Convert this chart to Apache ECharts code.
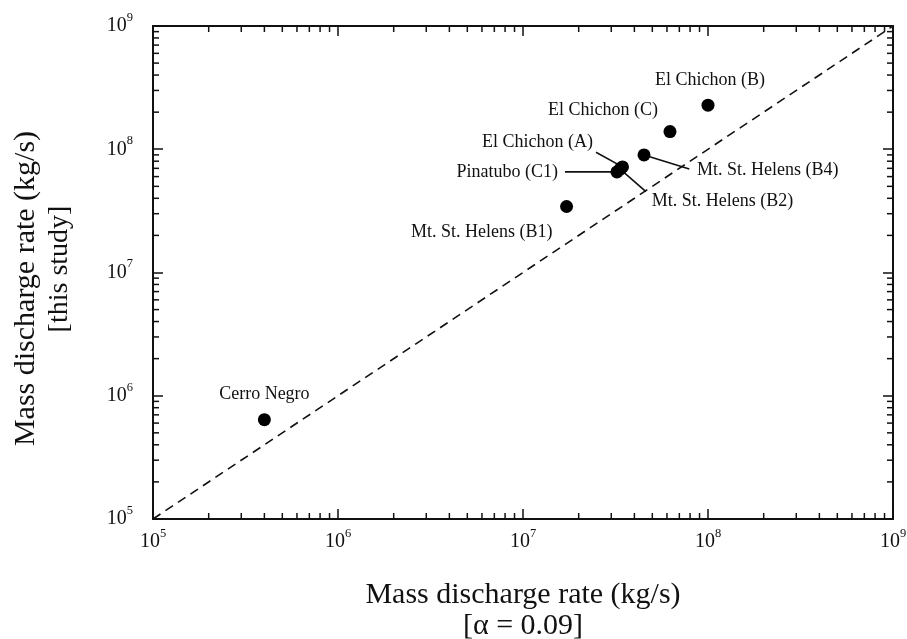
<!DOCTYPE html>
<html>
<head>
<meta charset="utf-8">
<script src="https://cdn.jsdelivr.net/npm/echarts@6/dist/echarts.min.js"></script>
<style>
  html, body { margin: 0; padding: 0; background: #fff; }
  #chart { width: 907px; height: 639px; }
</style>
</head>
<body>
<div id="chart"></div>
<script>
// Eruptions: discharge rate from the alpha = 0.09 estimate (x) vs. this study (y), kg/s
const eruptionNames = [
  'Cerro Negro', 'Mt. St. Helens (B1)', 'Pinatubo (C1)', 'El Chichon (A)',
  'Mt. St. Helens (B2)', 'Mt. St. Helens (B4)', 'El Chichon (C)', 'El Chichon (B)'
];
const rateAlpha = [4.0e5, 1.72e7, 3.22e7, 3.45e7, 3.35e7, 4.51e7, 6.23e7, 1.0e8];
const rateThisStudy = [6.4e5, 3.43e7, 6.55e7, 7.19e7, 6.9e7, 8.99e7, 1.39e8, 2.28e8];

// Axis range (decades) and the 1:1 reference line
const axisMin = 1e5;
const axisMax = 1e9;
const oneToOne = [[1e5, 1e5], [1e9, 1e9]];

// Minor log ticks: 2..9 within each decade
const minorMultipliers = [2, 3, 4, 5, 6, 7, 8, 9];
const decadeStarts = [1e5, 1e6, 1e7, 1e8];

const xTitle = 'Mass discharge rate (kg/s)\n[\u03b1 = 0.09]';
const yTitleLines = ['Mass discharge rate (kg/s)', '[this study]'];

// Label placement for each eruption, pixel offsets from its marker
const labelLayout = [
  { tx: 0,     ty: -25,   align: 'center' },
  { tx: -14,   ty: 26,    align: 'right' },
  { tx: -59,   ty: 0,     align: 'right', lx: -52,   ly: 0 },
  { tx: -29.5, ty: -24.3, align: 'right', lx: -26.5, ly: -14.7 },
  { tx: 31.5,  ty: 32.5,  align: 'left',  lx: 25.8,  ly: 22.5 },
  { tx: 53,    ty: 15,    align: 'left',  lx: 45.3,  ly: 14 },
  { tx: -12,   ty: -21,   align: 'right' },
  { tx: 2,     ty: -25,   align: 'center' }
];

const SERIF = '"Liberation Serif", "Times New Roman", serif';
const INK = '#111';

const minorTicks = [];
decadeStarts.forEach(d => minorMultipliers.forEach(m => minorTicks.push(d * m)));

const points = rateAlpha.map((x, i) => [x, rateThisStudy[i]]);

function powerLabel(v) {
  const e = Math.round(Math.log10(v));
  return '{b|10}{e|' + e + '}';
}
const powerRich = {
  b: { fontFamily: SERIF, fontSize: 20, color: INK, lineHeight: 30 },
  e: { fontFamily: SERIF, fontSize: 12.5, color: INK, lineHeight: 12, verticalAlign: 'top' }
};

const logAxisBase = {
  type: 'log', logBase: 10, min: axisMin, max: axisMax,
  axisLine: { show: true, onZero: false, lineStyle: { color: INK, width: 2 } },
  axisTick: { show: true, inside: true, length: 10, lineStyle: { color: INK, width: 1.5 } },
  splitLine: { show: false }
};

const chart = echarts.init(document.getElementById('chart'), null, { renderer: 'canvas' });

chart.setOption({
  backgroundColor: '#fff',
  animation: false,
  grid: { left: 153, right: 14, top: 26, bottom: 120, containLabel: false, outerBoundsMode: 'none' },
  xAxis: [
    Object.assign({}, logAxisBase, {
      position: 'bottom',
      axisLabel: { show: true, margin: 8, formatter: powerLabel, rich: powerRich },
      name: xTitle, nameLocation: 'middle', nameGap: 61,
      nameTextStyle: { fontFamily: SERIF, fontSize: 30, color: INK, lineHeight: 31 }
    }),
    Object.assign({}, logAxisBase, { position: 'top', axisLabel: { show: false } })
  ],
  yAxis: [
    Object.assign({}, logAxisBase, {
      position: 'left',
      axisLabel: { show: true, margin: 20, formatter: powerLabel, rich: powerRich },
      name: '{l1|' + yTitleLines[0] + '}\n{l2|' + yTitleLines[1] + '}',
      nameLocation: 'middle', nameGap: 76, nameRotate: 90,
      nameTextStyle: {
        fontFamily: SERIF, fontSize: 30, color: INK, lineHeight: 34,
        rich: {
          l1: { fontFamily: SERIF, fontSize: 30, color: INK, lineHeight: 34, padding: [0, 32, 0, 0] },
          l2: { fontFamily: SERIF, fontSize: 28, color: INK, lineHeight: 34, padding: [0, 0, 0, 7] }
        }
      }
    }),
    Object.assign({}, logAxisBase, { position: 'right', axisLabel: { show: false } })
  ],
  series: [
    {
      // 1:1 line
      type: 'line', data: oneToOne, symbol: 'none', silent: true, z: 2,
      lineStyle: { color: INK, width: 1.6, type: [9, 6] }
    },
    {
      // minor ticks along bottom and top
      type: 'custom', silent: true, z: 3, clip: false,
      data: minorTicks.map(v => [v, axisMin]),
      renderItem: function (params, api) {
        const cs = params.coordSys;
        const px = api.coord([api.value(0), axisMin])[0];
        const st = { stroke: INK, lineWidth: 1.5 };
        return {
          type: 'group', children: [
            { type: 'line', shape: { x1: px, y1: cs.y + cs.height, x2: px, y2: cs.y + cs.height - 6 }, style: st },
            { type: 'line', shape: { x1: px, y1: cs.y, x2: px, y2: cs.y + 6 }, style: st }
          ]
        };
      }
    },
    {
      // minor ticks along left and right
      type: 'custom', silent: true, z: 3, clip: false,
      data: minorTicks.map(v => [axisMin, v]),
      renderItem: function (params, api) {
        const cs = params.coordSys;
        const py = api.coord([axisMin, api.value(1)])[1];
        const st = { stroke: INK, lineWidth: 1.5 };
        return {
          type: 'group', children: [
            { type: 'line', shape: { x1: cs.x, y1: py, x2: cs.x + 6, y2: py }, style: st },
            { type: 'line', shape: { x1: cs.x + cs.width, y1: py, x2: cs.x + cs.width - 6, y2: py }, style: st }
          ]
        };
      }
    },
    {
      // eruption labels with leader lines
      type: 'custom', silent: true, z: 4, clip: false,
      data: points,
      renderItem: function (params, api) {
        const p = api.coord([api.value(0), api.value(1)]);
        const a = labelLayout[params.dataIndex];
        const children = [];
        if (a.lx !== undefined) {
          children.push({
            type: 'line',
            shape: { x1: p[0], y1: p[1], x2: p[0] + a.lx, y2: p[1] + a.ly },
            style: { stroke: INK, lineWidth: 1.6 }
          });
        }
        children.push({
          type: 'text', x: p[0] + a.tx, y: p[1] + a.ty,
          style: {
            text: eruptionNames[params.dataIndex], fill: INK,
            font: '18px ' + SERIF, align: a.align, verticalAlign: 'middle'
          }
        });
        return { type: 'group', children: children };
      }
    },
    {
      type: 'scatter', data: points, symbol: 'circle', symbolSize: 13, z: 5,
      itemStyle: { color: '#000', opacity: 1, borderWidth: 0 }
    }
  ]
});
</script>
</body>
</html>
